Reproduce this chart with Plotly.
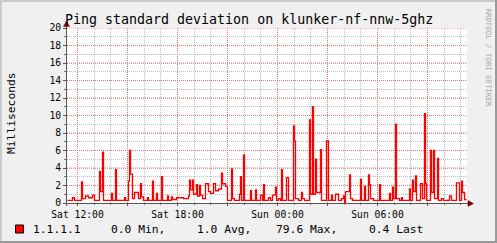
import plotly.graph_objects as go
import pandas as pd

# ---------------- data ----------------
start_time = "2024-01-06 11:24:00"   # a Saturday
step_seconds = 216
std_dev_ms = [
    0.3,0.3,0.3,0.3,0.3,0.6,0.6,0.3,0.3,0.3,
    0.3,0.3,0.3,0.3,2.4,0.5,0.5,0.5,0.8,0.8,
    0.8,0.6,0.6,0.6,0.6,0.9,0.9,0.3,0.3,0.3,
    0.3,0.3,3.6,1.3,1.3,5.8,0.3,0.3,0.3,0.3,
    0.3,0.3,0.3,0.3,1.1,0.3,0.3,0.3,3.8,0.3,
    0.3,0.3,0.3,0.3,0.3,0.3,0.3,0.6,0.3,0.3,
    0.3,2.5,6.0,3.3,3.3,0.5,0.5,1.2,1.2,1.2,
    1.2,0.5,0.5,2.2,0.7,0.7,0.3,0.3,0.3,0.3,
    0.6,0.3,0.3,0.3,0.3,2.5,0.3,0.3,0.3,1.1,
    0.3,0.3,0.3,0.3,3.0,0.3,0.3,0.3,0.3,0.3,
    0.8,0.3,0.3,0.3,0.7,0.4,0.4,0.4,0.4,0.6,
    0.6,0.6,0.6,0.6,0.6,0.6,0.5,0.5,0.5,0.5,
    0.5,0.8,2.6,1.5,1.5,2.6,1.0,1.0,1.0,2.1,
    0.8,0.8,2.0,0.9,0.9,0.5,0.5,0.5,2.2,2.2,
    2.2,1.3,1.3,1.1,1.1,1.1,2.2,2.2,1.4,1.4,
    1.4,1.6,1.6,1.6,3.4,2.2,2.2,2.2,1.9,1.9,
    0.3,0.3,0.3,0.3,3.9,0.5,0.5,0.3,0.3,0.3,
    0.3,0.3,1.0,3.0,0.3,0.3,5.5,0.3,0.3,0.3,
    0.3,0.3,0.3,1.4,0.3,0.3,0.3,0.3,1.5,0.3,
    0.3,0.3,0.3,0.9,0.9,0.3,2.1,0.3,0.3,0.3,
    0.3,0.6,0.6,0.3,0.3,0.9,0.9,0.9,1.8,0.3,
    0.3,0.5,0.5,0.3,3.8,0.3,0.3,0.3,0.3,2.9,
    2.9,0.3,0.3,0.3,0.3,0.3,8.8,7.1,0.5,0.5,
    0.5,0.3,0.3,0.3,1.2,0.5,0.5,0.3,0.3,0.3,
    0.3,0.3,9.5,1.0,1.0,11.0,1.0,1.0,5.0,1.2,
    1.2,1.2,1.2,6.1,0.3,0.3,0.3,0.3,0.3,7.1,
    7.1,0.3,0.3,0.3,0.9,0.3,0.3,0.3,1.0,1.0,
    1.0,0.3,0.3,0.3,0.5,0.5,0.8,0.0,1.3,1.3,
    1.3,1.3,3.2,0.5,0.5,0.3,0.3,0.3,0.3,0.3,
    0.3,0.3,0.3,2.7,0.3,0.3,0.3,1.9,0.3,0.3,
    0.3,3.2,2.1,0.5,0.5,0.5,0.3,0.3,0.3,0.3,
    0.3,0.3,2.1,0.3,0.3,0.3,0.3,0.3,0.3,0.3,
    0.3,0.3,1.1,0.3,0.3,1.8,0.5,0.5,9.0,0.5,
    0.5,0.5,0.3,0.3,0.6,0.3,0.3,0.3,0.3,0.3,
    0.3,0.3,1.6,0.3,0.3,2.6,1.3,1.3,3.1,0.3,
    0.3,0.3,0.3,2.2,2.2,0.5,0.5,10.2,2.2,0.3,
    0.3,0.3,0.3,6.0,1.2,1.2,6.0,0.5,0.5,0.5,
    5.1,0.3,0.3,0.3,0.5,0.5,0.3,0.3,0.3,0.3,
    0.3,0.3,0.8,0.8,0.3,0.3,0.3,0.3,0.3,2.3,
    2.3,2.3,0.3,0.3,2.5,1.2,1.2,0.4,0.4,0.4,
]
tick_times = ["2024-01-06 12:00", "2024-01-06 15:00", "2024-01-06 18:00", "2024-01-06 21:00",
              "2024-01-07 00:00", "2024-01-07 03:00", "2024-01-07 06:00", "2024-01-07 09:00"]
tick_labels = ["Sat 12:00", "", "Sat 18:00", "", "Sun 00:00", "", "Sun 06:00", ""]
y_ticks = [0, 2, 4, 6, 8, 10, 12, 14, 16, 18, 20]
series_name = "1.1.1.1"
legend_stats = ["0.0 Min,", "1.0 Avg,", "79.6 Max,", "0.4 Last"]
title_text = "Ping standard deviation on klunker-nf-nnw-5ghz"
y_title = "Milliseconds"
watermark = "RRDTOOL / TOBI OETIKER"

# ---------------- layout constants ----------------
W, H = 497, 243
L, R, T, B = 67, 30, 28, 40
PW, PH = W - L - R, H - T - B
FONT = "DejaVu Sans Mono"

def px(x):
    return (x - L) / PW

def py(y):
    return (T + PH - y) / PH

times = pd.date_range(start_time, periods=len(std_dev_ms), freq=f"{step_seconds}s")
half = pd.Timedelta(seconds=step_seconds / 2)
x_start = times[0] - half
x_end = times[0] + pd.Timedelta(seconds=step_seconds * PW) - half

major_grid = "rgb(240,110,110)"
minor_grid = "rgb(190,190,190)"

fig = go.Figure()

# major grid (red dotted) as background traces built from the tick lists
gx, gy = [], []
for tv in tick_times:
    gx += [pd.Timestamp(tv), pd.Timestamp(tv), None]
    gy += [0, 20, None]
fig.add_trace(go.Scatter(x=gx, y=gy, mode="lines", line=dict(color=major_grid, width=1, dash="1px,1px"),
                         showlegend=False, hoverinfo="skip", connectgaps=False))
hx, hy = [], []
for yv in y_ticks[1:]:
    hx += [x_start, x_end, None]
    hy += [yv, yv, None]
fig.add_trace(go.Scatter(x=hx, y=hy, mode="lines", line=dict(color=major_grid, width=1, dash="1px,1px"),
                         showlegend=False, hoverinfo="skip", connectgaps=False))

fig.add_trace(go.Scatter(x=times, y=std_dev_ms, mode="lines",
                         line=dict(color="#ff0000", width=1.3, shape="hv"),
                         showlegend=False, hoverinfo="skip"))

fig.update_layout(
    width=W, height=H,
    margin=dict(l=L, r=R, t=T, b=B, pad=0),
    paper_bgcolor="#f0f0f0", plot_bgcolor="#ffffff",
    font=dict(family=FONT, color="#000000", size=10),
    showlegend=False,
    xaxis=dict(
        type="date", range=[x_start, x_end], tickmode="array",
        tickvals=tick_times, ticktext=tick_labels,
        showgrid=False,
        ticks="outside", ticklen=2, tickcolor="#555555",
        tickfont=dict(family=FONT, size=9.7, color="#000000"),
        minor=dict(dtick=3600000, tick0="2024-01-06 01:00", showgrid=True,
                   gridcolor=minor_grid, griddash="1px,1px", ticks="outside",
                   ticklen=1, tickcolor="#777777"),
        showline=False, zeroline=False, fixedrange=True,
    ),
    yaxis=dict(
        range=[0, 20], tickmode="array", tickvals=y_ticks,
        showgrid=False,
        ticks="outside", ticklen=3, tickcolor="#555555",
        tickfont=dict(family=FONT, size=9.7, color="#000000"),
        minor=dict(dtick=1, showgrid=True, gridcolor=minor_grid, griddash="1px,1px",
                   ticks="outside", ticklen=2, tickcolor="#777777"),
        showline=False, zeroline=False, fixedrange=True,
    ),
)

shapes = []
# frame shading
shapes.append(dict(type="line", xref="paper", yref="paper", x0=px(0), x1=px(W), y0=py(1), y1=py(1),
                   line=dict(color="#cbcbcb", width=2)))
shapes.append(dict(type="line", xref="paper", yref="paper", x0=px(1), x1=px(1), y0=py(0), y1=py(H),
                   line=dict(color="#cbcbcb", width=2)))
shapes.append(dict(type="line", xref="paper", yref="paper", x0=px(0), x1=px(W), y0=py(H - 1), y1=py(H - 1),
                   line=dict(color="#999999", width=2)))
shapes.append(dict(type="line", xref="paper", yref="paper", x0=px(W - 1), x1=px(W - 1), y0=py(0), y1=py(H),
                   line=dict(color="#999999", width=2)))
# axes
axis_col = "#555555"
shapes.append(dict(type="line", xref="paper", yref="paper", x0=px(64), x1=px(469), y0=py(203.5), y1=py(203.5),
                   line=dict(color=axis_col, width=1)))
shapes.append(dict(type="line", xref="paper", yref="paper", x0=px(66.5), x1=px(66.5), y0=py(206), y1=py(24),
                   line=dict(color=axis_col, width=1)))
# arrows
arrow_col = "#7f0000"
shapes.append(dict(type="path", xref="paper", yref="paper",
                   path=f"M {px(66.5)} {py(21)} L {px(63.5)} {py(26.5)} L {px(69.5)} {py(26.5)} Z",
                   fillcolor=arrow_col, line=dict(color=arrow_col, width=0.5)))
shapes.append(dict(type="path", xref="paper", yref="paper",
                   path=f"M {px(473.5)} {py(203.5)} L {px(468)} {py(200.5)} L {px(468)} {py(206.5)} Z",
                   fillcolor=arrow_col, line=dict(color=arrow_col, width=0.5)))
# legend box
shapes.append(dict(type="rect", xref="paper", yref="paper", x0=px(15.5), x1=px(23.5), y0=py(225), y1=py(233),
                   fillcolor="#ff0000", line=dict(color="#000000", width=1)))
fig.update_layout(shapes=shapes)

ann = []
ann.append(dict(text=title_text, xref="paper", yref="paper", x=px(248.5), y=py(19),
                xanchor="center", yanchor="middle", showarrow=False,
                font=dict(family=FONT, size=13.3, color="#000000")))
ann.append(dict(text=y_title, xref="paper", yref="paper", x=px(11), y=py(113),
                xanchor="center", yanchor="middle", textangle=-90, showarrow=False,
                font=dict(family=FONT, size=11.3, color="#000000")))
ann.append(dict(text=watermark, xref="paper", yref="paper", x=px(488.5), y=py(57),
                xanchor="center", yanchor="middle", textangle=90, showarrow=False,
                font=dict(family=FONT, size=7.4, color="#a8a8a8")))
legend_x = [30.5, 109.3, 195, 274, 366.7]
for txt, lx in zip([series_name] + legend_stats, legend_x):
    ann.append(dict(text=txt, xref="paper", yref="paper", x=px(lx), y=py(229.5),
                    xanchor="left", yanchor="middle", showarrow=False,
                    font=dict(family=FONT, size=11.3, color="#000000")))
fig.update_layout(annotations=ann)

fig.write_html("out.html")
